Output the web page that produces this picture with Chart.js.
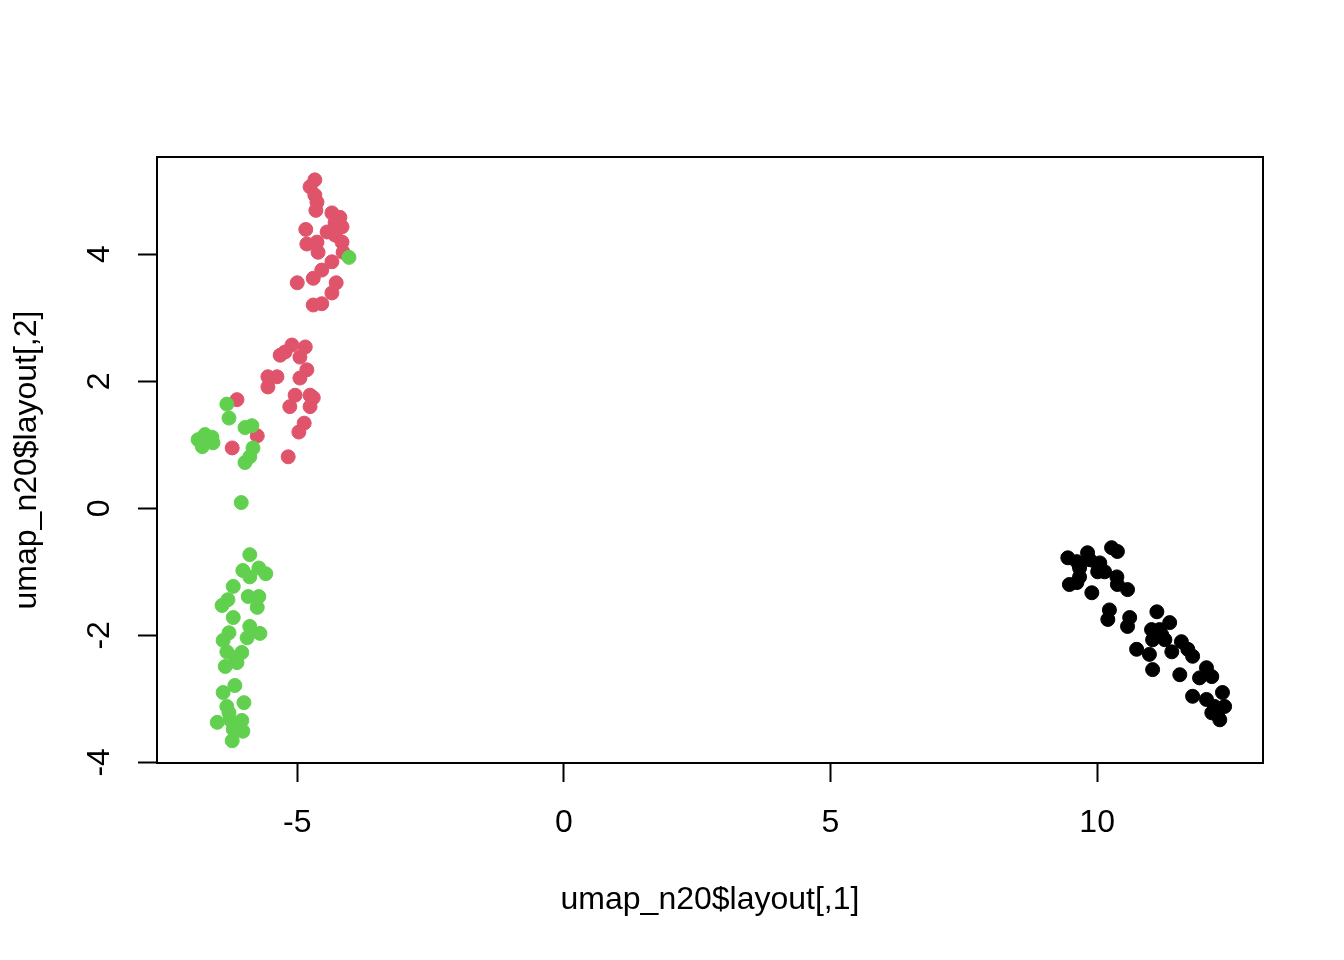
<!DOCTYPE html>
<html>
<head>
<meta charset="utf-8">
<script src="https://cdn.jsdelivr.net/npm/chart.js@4"></script>
<style>
  html, body { margin: 0; padding: 0; background: #fff; }
  #wrap { width: 1344px; height: 960px; }
</style>
</head>
<body>
<div id="wrap"><canvas id="umapChart" width="1344" height="960"></canvas></div>
<script>
// umap_n20$layout: 3 grupos (negro, rojo, verde)
const blackX = [10.27, 10.38, 9.45, 9.62, 9.82, 9.86, 10.05, 10.01, 9.67, 9.67, 10.14, 10.37, 9.48, 9.62, 10.38, 10.57,
  9.90, 10.23, 10.20, 10.61, 10.57, 11.12, 11.02, 11.21, 11.36, 11.04, 11.27, 11.58, 11.70, 11.79, 10.74, 10.98,
  11.40, 11.04, 11.55, 11.92, 12.05, 12.15, 11.79, 12.05, 12.35, 12.20, 12.39, 12.15, 12.30, 12.26, 11.17, 10.01];
const blackY = [-0.62, -0.68, -0.78, -0.84, -0.70, -0.81, -0.86, -1.00, -0.94, -1.08, -1.00, -1.08, -1.20, -1.17, -1.20, -1.28,
  -1.33, -1.60, -1.75, -1.72, -1.86, -1.63, -1.91, -1.99, -1.80, -2.07, -2.07, -2.10, -2.22, -2.33, -2.22, -2.30,
  -2.26, -2.54, -2.62, -2.67, -2.51, -2.65, -2.96, -3.01, -2.90, -3.12, -3.12, -3.22, -3.33, -3.26, -1.91, -0.89];

const redX = [-4.67, -4.76, -4.67, -4.63, -4.65, -4.35, -4.20, -4.84, -4.16, -4.44, -4.29, -4.16, -4.82, -4.63, -4.61, -4.14,
  -4.35, -4.54, -4.70, -5.00, -4.27, -4.35, -4.70, -4.54, -4.29,
  -5.10, -4.85, -5.32, -4.95, -5.55, -5.38, -5.55, -4.82, -4.95, -5.04, -4.76, -5.14, -4.76, -4.87, -4.97, -5.17,
  -6.13, -5.75, -6.22, -5.23, -4.70];
const redY = [5.17, 5.06, 4.93, 4.82, 4.69, 4.65, 4.58, 4.39, 4.43, 4.35, 4.30, 4.19, 4.16, 4.19, 4.03, 4.03,
  3.88, 3.75, 3.62, 3.55, 3.55, 3.39, 3.20, 3.22, 4.50,
  2.57, 2.54, 2.41, 2.38, 2.07, 2.07, 1.91, 2.18, 2.05, 1.78, 1.78, 1.60, 1.60, 1.34, 1.20, 0.81,
  1.71, 1.14, 0.95, 2.46, 1.74];

const greenX = [-4.03, -6.32, -6.28, -5.98, -5.85, -6.86, -6.60, -6.78, -6.58, -6.73, -5.83, -5.89, -5.98, -6.05,
  -5.89, -6.02, -5.72, -5.89, -5.59, -6.20, -6.30, -6.41, -5.92, -5.72, -5.75, -6.20, -5.89, -6.28, -5.70, -5.94,
  -6.39, -6.32, -6.04, -6.17, -6.35, -6.13, -6.17, -6.39, -6.32, -6.00, -6.50, -6.26, -6.04, -6.20, -6.02, -6.22, -6.28];
const greenY = [3.95, 1.64, 1.42, 1.27, 1.30, 1.08, 1.12, 0.97, 1.03, 1.16, 0.95, 0.81, 0.72, 0.09,
  -0.73, -0.98, -0.94, -1.08, -1.03, -1.23, -1.44, -1.53, -1.39, -1.39, -1.56, -1.72, -1.86, -1.96, -1.97, -2.04,
  -2.08, -2.26, -2.27, -2.35, -2.49, -2.43, -2.79, -2.90, -3.12, -3.06, -3.37, -3.33, -3.34, -3.48, -3.51, -3.66, -3.22];

const xTicks = [-5, 0, 5, 10];
const yTicks = [-4, -2, 0, 2, 4];
const xTitle = 'umap_n20$layout[,1]';
const yTitle = 'umap_n20$layout[,2]';

const FONT = '"Liberation Sans", Arial, Helvetica, sans-serif';

function toPoints(xs, ys) {
  return xs.map((x, i) => ({ x: x, y: ys[i] }));
}

// caja alrededor del área + etiquetas del eje Y giradas (estilo R)
const rBoxPlugin = {
  id: 'rBox',
  afterDraw(chart) {
    const { ctx, chartArea: a, scales } = chart;
    ctx.save();
    ctx.strokeStyle = '#000';
    ctx.lineWidth = 2;
    ctx.strokeRect(a.left, a.top, a.right - a.left, a.bottom - a.top);

    ctx.fillStyle = '#000';
    ctx.font = '32px ' + FONT;
    ctx.textAlign = 'center';
    ctx.textBaseline = 'middle';
    yTicks.forEach(v => {
      const py = scales.y.getPixelForValue(v);
      ctx.save();
      ctx.translate(100, py);
      ctx.rotate(-Math.PI / 2);
      ctx.fillText(String(v), 0, 0);
      ctx.restore();
    });
    ctx.restore();
  }
};

const ctx = document.getElementById('umapChart').getContext('2d');
const umapChart = new Chart(ctx, {
  type: 'scatter',
  data: {
    datasets: [
      {
        label: 'grupo 1',
        data: toPoints(blackX, blackY),
        backgroundColor: '#000000',
        borderColor: '#000000',
        order: 3
      },
      {
        label: 'grupo 2',
        data: toPoints(redX, redY),
        backgroundColor: '#DF536B',
        borderColor: '#DF536B',
        order: 2
      },
      {
        label: 'grupo 3',
        data: toPoints(greenX, greenY),
        backgroundColor: '#61D04F',
        borderColor: '#61D04F',
        order: 1
      }
    ]
  },
  options: {
    responsive: false,
    animation: false,
    elements: {
      point: { radius: 7, borderWidth: 1, hoverRadius: 7 }
    },
    layout: {
      padding: { top: 157, right: 81, left: 0, bottom: 0 }
    },
    plugins: {
      legend: { display: false },
      tooltip: { enabled: false }
    },
    scales: {
      x: {
        type: 'linear',
        min: -7.63,
        max: 13.11,
        afterBuildTicks: s => { s.ticks = xTicks.map(v => ({ value: v })); },
        afterFit: s => { s.height = 197; },
        border: { display: false },
        grid: {
          drawOnChartArea: false,
          drawTicks: true,
          tickLength: 19,
          tickWidth: 2,
          tickColor: '#000'
        },
        ticks: {
          color: '#000',
          padding: 22,
          maxRotation: 0,
          font: { family: FONT, size: 32 }
        },
        title: {
          display: true,
          text: xTitle,
          color: '#000',
          padding: { top: 0, bottom: 41 },
          font: { family: FONT, size: 32 }
        }
      },
      y: {
        type: 'linear',
        min: -4.01,
        max: 5.53,
        afterBuildTicks: s => { s.ticks = yTicks.map(v => ({ value: v })); },
        afterFit: s => { s.width = 157; },
        border: { display: false },
        grid: {
          drawOnChartArea: false,
          drawTicks: true,
          tickLength: 19,
          tickWidth: 2,
          tickColor: '#000'
        },
        ticks: {
          color: 'rgba(0,0,0,0)',
          font: { family: FONT, size: 32 }
        },
        title: {
          display: true,
          text: yTitle,
          color: '#000',
          padding: { top: 8, bottom: 0 },
          font: { family: FONT, size: 32 }
        }
      }
    }
  },
  plugins: [rBoxPlugin]
});
</script>
</body>
</html>
